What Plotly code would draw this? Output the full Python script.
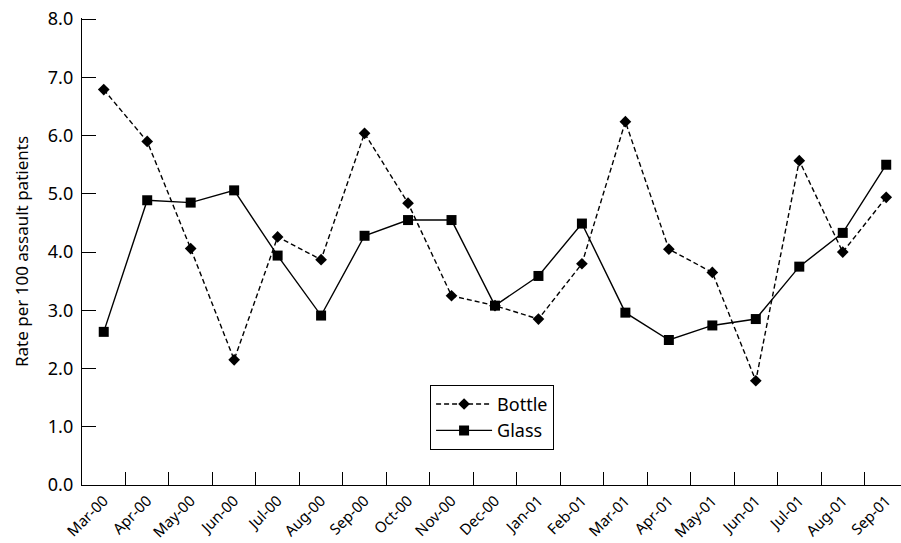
import plotly.graph_objects as go

months = ["Mar-00", "Apr-00", "May-00", "Jun-00", "Jul-00", "Aug-00", "Sep-00", "Oct-00",
          "Nov-00", "Dec-00", "Jan-01", "Feb-01", "Mar-01", "Apr-01", "May-01", "Jun-01",
          "Jul-01", "Aug-01", "Sep-01"]
bottle = [6.79, 5.90, 4.06, 2.15, 4.26, 3.87, 6.04, 4.84, 3.25, 3.08, 2.85, 3.80,
          6.24, 4.05, 3.65, 1.79, 5.57, 4.00, 4.94]
glass = [2.63, 4.89, 4.85, 5.06, 3.94, 2.91, 4.28, 4.55, 4.55, 3.08, 3.59, 4.49,
         2.96, 2.49, 2.74, 2.85, 3.75, 4.33, 5.50]
y_ticks = [0, 1, 2, 3, 4, 5, 6, 7, 8]
y_labels = ["0.0", "1.0", "2.0", "3.0", "4.0", "5.0", "6.0", "7.0", "8.0"]

FONT = "Noto Sans"

fig = go.Figure()
fig.add_trace(go.Scatter(
    x=months, y=bottle, name="Bottle", mode="lines+markers",
    line=dict(color="black", width=1.4, dash="5px,3px"),
    marker=dict(symbol="diamond", size=9, color="black"),
))
fig.add_trace(go.Scatter(
    x=months, y=glass, name="Glass", mode="lines+markers",
    line=dict(color="black", width=1.4),
    marker=dict(symbol="square", size=10, color="black"),
))

fig.update_layout(
    width=901, height=543,
    margin=dict(l=82, r=0, t=18, b=58),
    plot_bgcolor="white", paper_bgcolor="white",
    font=dict(family=FONT, color="black", size=17),
    showlegend=True,
    legend=dict(
        x=0.425, y=0.2146, xanchor="left", yanchor="top",
        bordercolor="black", borderwidth=1, bgcolor="white",
        font=dict(family=FONT, size=18, color="black"),
        itemwidth=56, tracegroupgap=0,
    ),
    xaxis=dict(
        type="category", range=[-0.5, 18.34], automargin=False,
        tickson="boundaries", ticks="inside", ticklen=13, tickcolor="black", tickwidth=1,
        showline=True, linecolor="black", linewidth=1.3,
        tickangle=-45, tickfont=dict(family=FONT, size=15),
        showgrid=False, zeroline=False,
    ),
    yaxis=dict(
        range=[0, 8.02], tickvals=y_ticks, ticktext=y_labels, automargin=False,
        ticks="inside", ticklen=14, tickcolor="black", tickwidth=1,
        showline=True, linecolor="black", linewidth=1.3, ticklabelstandoff=4,
        ticklabeloverflow="allow",
        tickfont=dict(family=FONT, size=18), showgrid=False, zeroline=False,
        title=dict(text="Rate per 100 assault patients", font=dict(family=FONT, size=17), standoff=14),
    ),
)

fig.write_html("out.html", config={"displayModeBar": False},
               post_script="document.body.style.margin='0px';")
